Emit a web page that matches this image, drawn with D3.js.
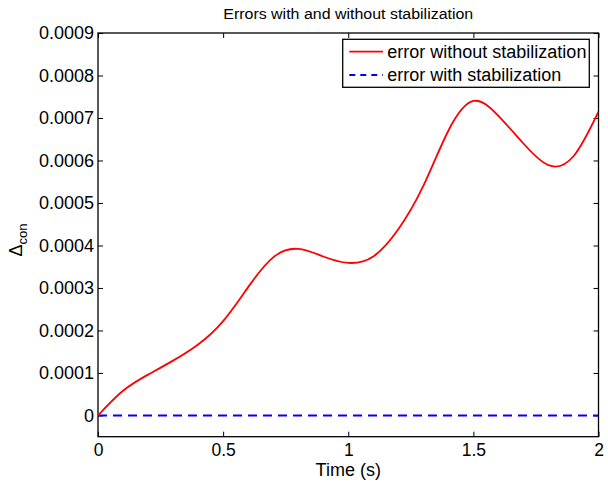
<!DOCTYPE html>
<html>
<head>
<meta charset="utf-8">
<script src="https://cdn.jsdelivr.net/npm/d3@7"></script>
<style>
  html, body { margin: 0; padding: 0; background: #fff; }
  svg { display: block; font-family: "Liberation Sans", Arial, Helvetica, sans-serif; }
</style>
</head>
<body>
<svg id="chart" width="608" height="483"></svg>
<script>
// Time samples (s) and constraint error without stabilization
const timeS = [0, 0.1, 0.2, 0.3, 0.4, 0.5, 0.6, 0.7, 0.8, 0.9, 1.0,
               1.1, 1.2, 1.3, 1.4, 1.5, 1.6, 1.7, 1.8, 1.9, 2.0];
const errorWithout = [0, 0.000058, 0.000096, 0.000129, 0.000167, 0.000222, 0.000302, 0.000372,
                      0.000392, 0.000374, 0.000359, 0.000374, 0.000438, 0.000540, 0.000670,
                      0.000740, 0.000705, 0.000640, 0.000589, 0.000610, 0.000715];
// Error with stabilization stays at zero
const errorWith = timeS.map(() => 0);

const xTicks = [0, 0.5, 1, 1.5, 2];
const xTickLabels = ["0", "0.5", "1", "1.5", "2"];
const yTicks = [0, 0.0001, 0.0002, 0.0003, 0.0004, 0.0005, 0.0006, 0.0007, 0.0008, 0.0009];
const yTickLabels = ["0", "0.0001", "0.0002", "0.0003", "0.0004", "0.0005", "0.0006", "0.0007", "0.0008", "0.0009"];
const seriesNames = ["error without stabilization", "error with stabilization"];

const svg = d3.select("#chart");
const plotL = 98, plotR = 598.5, plotT = 33, plotB = 436.7;

const x = d3.scaleLinear().domain([0, 2]).range([plotL, plotR]);
const y = d3.scaleLinear().domain([-0.00005, 0.0009]).range([plotB, plotT]);

// Title
svg.append("text")
  .attr("x", (plotL + plotR) / 2).attr("y", 18.5)
  .attr("text-anchor", "middle")
  .style("font-size", "14px")
  .attr("textLength", 250).attr("lengthAdjust", "spacingAndGlyphs")
  .text("Errors with and without stabilization");

// Axes (ticks pointing inward, mirrored on top and right)
const tickLen = 5;
const xAxisB = d3.axisBottom(x).tickValues(xTicks).tickFormat((d, i) => xTickLabels[i])
  .tickSizeInner(-tickLen).tickSizeOuter(0);
const xAxisT = d3.axisTop(x).tickValues(xTicks).tickFormat("").tickSizeInner(-tickLen).tickSizeOuter(0);
const yAxisL = d3.axisLeft(y).tickValues(yTicks).tickFormat((d, i) => yTickLabels[i])
  .tickSizeInner(-tickLen).tickSizeOuter(0).tickPadding(4);
const yAxisR = d3.axisRight(y).tickValues(yTicks).tickFormat("").tickSizeInner(-tickLen).tickSizeOuter(0);

function styleAxis(g) {
  g.select(".domain").remove();
  g.selectAll(".tick line").attr("stroke", "#000").attr("stroke-width", 1);
  g.selectAll(".tick text").attr("fill", "#000").style("font-size", "18px")
   .style("font-family", "'Liberation Sans', Arial, Helvetica, sans-serif");
}

svg.append("g").attr("transform", `translate(0,${plotB})`).call(xAxisB).call(styleAxis)
  .selectAll(".tick text").attr("y", 19.5).attr("dy", 0).style("font-size", "17.5px");
svg.append("g").attr("transform", `translate(0,${plotT})`).call(xAxisT).call(styleAxis);
svg.append("g").attr("transform", `translate(${plotL},0)`).call(yAxisL).call(styleAxis);
svg.append("g").attr("transform", `translate(${plotR},0)`).call(yAxisR).call(styleAxis);

// Plot frame
svg.append("rect")
  .attr("x", plotL).attr("y", plotT)
  .attr("width", plotR - plotL).attr("height", plotB - plotT)
  .attr("fill", "none").attr("stroke", "#000").attr("stroke-width", 1.3);

// Clip lines to the plot area
svg.append("clipPath").attr("id", "plotClip")
  .append("rect").attr("x", plotL).attr("y", plotT).attr("width", plotR - plotL).attr("height", plotB - plotT);

const line = d3.line().x(d => x(d[0])).y(d => y(d[1])).curve(d3.curveNatural);

svg.append("path")
  .datum(timeS.map((t, i) => [t, errorWith[i]]))
  .attr("clip-path", "url(#plotClip)")
  .attr("fill", "none").attr("stroke", "#0000ff").attr("stroke-width", 2)
  .attr("stroke-dasharray", "9,6")
  .attr("d", line);

svg.append("path")
  .datum(timeS.map((t, i) => [t, errorWithout[i]]))
  .attr("clip-path", "url(#plotClip)")
  .attr("fill", "none").attr("stroke", "#ff0000").attr("stroke-width", 1.8)
  .attr("d", line);

// Axis labels
svg.append("text")
  .attr("x", (plotL + plotR) / 2).attr("y", 476)
  .attr("text-anchor", "middle").style("font-size", "18px")
  .text("Time (s)");

const yLab = svg.append("text")
  .attr("transform", "translate(21.7,240) rotate(-90)")
  .attr("text-anchor", "middle").style("font-size", "18px");
yLab.append("tspan").text("\u0394");
yLab.append("tspan").attr("dy", 5).style("font-size", "13px").text("con");

// Legend
const lg = svg.append("g");
lg.append("rect").attr("x", 342.7).attr("y", 39.3).attr("width", 246.6).attr("height", 48)
  .attr("fill", "#fff").attr("stroke", "#000").attr("stroke-width", 1.3);
const legendRows = [
  { name: seriesNames[0], color: "#ff0000", dash: null, y: 51.7 },
  { name: seriesNames[1], color: "#0000ff", dash: "6,5", y: 75 }
];
legendRows.forEach(r => {
  lg.append("line").attr("x1", 349.3).attr("x2", 383).attr("y1", r.y).attr("y2", r.y)
    .attr("stroke", r.color).attr("stroke-width", 1.8)
    .attr("stroke-dasharray", r.dash);
  lg.append("text").attr("x", 387.3).attr("y", r.y).attr("dy", "0.35em")
    .style("font-size", "18px").text(r.name);
});
</script>
</body>
</html>
